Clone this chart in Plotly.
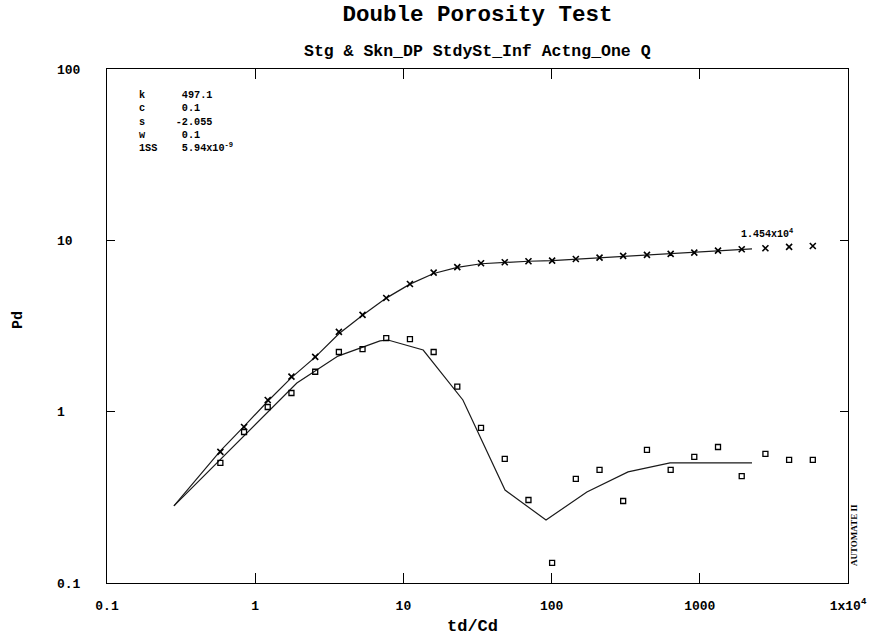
import plotly.graph_objects as go

# Dimensionless time td/Cd shared by both measured series
td = [0.582, 0.841, 1.215, 1.756, 2.54, 3.67, 5.30, 7.66, 11.07, 16.0, 23.1, 33.4,
      48.3, 69.8, 100.8, 145.7, 210.6, 304, 440, 636, 918, 1327, 1918, 2772, 4005, 5788]
# Measured dimensionless pressure
pd_meas = [0.582, 0.814, 1.17, 1.60, 2.09, 2.92, 3.67, 4.61, 5.56, 6.48, 6.97, 7.35,
           7.45, 7.55, 7.61, 7.78, 7.93, 8.11, 8.22, 8.33, 8.48, 8.71, 8.87, 8.99, 9.15, 9.27]
# Measured pressure derivative
deriv_meas = [0.502, 0.761, 1.065, 1.285, 1.71, 2.23, 2.32, 2.69, 2.65, 2.23, 1.40, 0.804,
              0.530, 0.305, 0.131, 0.405, 0.457, 0.301, 0.598, 0.457, 0.544, 0.622, 0.421,
              0.567, 0.523, 0.523]

# Type-curve model (pressure)
td_model = [0.283, 0.582, 0.841, 1.215, 1.756, 2.54, 3.67, 5.30, 7.66, 11.07, 16.0, 23.1,
            33.4, 48.3, 69.8, 100.8, 145.7, 210.6, 304, 440, 636, 918, 1327, 1918, 2250]
pd_model = [0.282, 0.59, 0.82, 1.15, 1.58, 2.08, 2.85, 3.65, 4.6, 5.55, 6.4, 6.95,
            7.3, 7.45, 7.55, 7.62, 7.76, 7.92, 8.1, 8.22, 8.33, 8.48, 8.7, 8.86, 8.92]
# Type-curve model (derivative)
td_dmodel = [0.283, 1.91, 3.62, 6.95, 7.87, 13.6, 25.2, 48.5, 91.7, 173, 328, 630, 2250]
pd_dmodel = [0.282, 1.47, 2.11, 2.59, 2.62, 2.29, 1.17, 0.349, 0.233, 0.340, 0.445, 0.502, 0.502]

# Match parameters
param_names = ["k", "c", "s", "w", "1SS"]
param_values = ["497.1", "0.1", "-2.055", "0.1", "5.94x10<sup>-9</sup>"]

x_tickvals = [0.1, 1, 10, 100, 1000, 10000]
x_ticktext = ["0.1", "1", "10", "100", "1000", "1x10<sup>4</sup>"]
y_tickvals = [0.1, 1, 10, 100]
y_ticktext = ["0.1", "1\u00a0\u00a0", "10\u00a0", "100"]

MONO = "Liberation Mono"
NBSP = "\u00a0"
W, H = 884, 642
L, R, T, B = 107, 36, 69, 59
pw, ph = W - L - R, H - T - B


def px(x):
    return (x - L) / pw


def py(y):
    return (H - B - y) / ph


fig = go.Figure()
fig.add_trace(go.Scatter(x=td_model, y=pd_model, mode="lines",
                         line=dict(color="#1a1a1a", width=1.2), showlegend=False))
fig.add_trace(go.Scatter(x=td_dmodel, y=pd_dmodel, mode="lines",
                         line=dict(color="#1a1a1a", width=1.2), showlegend=False))
fig.add_trace(go.Scatter(x=td, y=pd_meas, mode="markers",
                         marker=dict(symbol="x-thin-open", size=6, color="black",
                                     line=dict(color="black", width=1.6)),
                         showlegend=False))
fig.add_trace(go.Scatter(x=td, y=deriv_meas, mode="markers",
                         marker=dict(symbol="square-open", size=5, color="black",
                                     line=dict(color="black", width=1.3)),
                         showlegend=False))

# Parameter block as one monospaced text: name column, then a sign column for values
rows = []
for n, v in zip(param_names, param_values):
    sign = "" if v.startswith("-") else NBSP
    rows.append(n + NBSP * (6 - len(n)) + sign + v)
param_text = "<br>".join(rows)

annotations = [
    dict(text=param_text, x=px(137), y=py(88), xref="paper", yref="paper",
         xanchor="left", yanchor="top", align="left", showarrow=False,
         font=dict(family=MONO, size=10.2, color="black", weight="bold")),
    dict(text="Stg & Skn_DP StdySt_Inf Actng_One Q", x=0.5, y=py(52), xref="paper",
         yref="paper", xanchor="center", yanchor="middle", showarrow=False,
         font=dict(family=MONO, size=16.5, color="black", weight="bold")),
    dict(text="1.454x10<sup>4</sup>", x=px(767), y=py(234), xref="paper", yref="paper",
         xanchor="center", yanchor="middle", showarrow=False,
         font=dict(family=MONO, size=10, color="black", weight="bold")),
    dict(text="AUTOMATE II", x=px(854), y=py(535), xref="paper", yref="paper",
         xanchor="center", yanchor="middle", textangle=-90, showarrow=False,
         font=dict(family="Liberation Serif", size=9, color="black", weight="bold")),
    dict(text="td/Cd", x=px(472), y=py(626), xref="paper", yref="paper",
         xanchor="center", yanchor="middle", showarrow=False,
         font=dict(family=MONO, size=17, color="black", weight="bold")),
    dict(text="Pd", x=px(18), y=py(320), xref="paper", yref="paper",
         xanchor="center", yanchor="middle", textangle=-90, showarrow=False,
         font=dict(family=MONO, size=15, color="black", weight="bold")),
]

fig.update_layout(
    width=W, height=H,
    margin=dict(l=L, r=R, t=T, b=B),
    paper_bgcolor="white", plot_bgcolor="white",
    title=dict(text="Double Porosity Test", x=0.5, xref="paper", xanchor="center",
               y=1 - 13 / H, yref="container", yanchor="middle",
               font=dict(family=MONO, size=22.5, color="black", weight="bold")),
    annotations=annotations,
    xaxis=dict(type="log", range=[-1, 4], tickvals=x_tickvals, ticktext=x_ticktext,
               ticks="inside", ticklen=10, tickcolor="black", tickwidth=1,
               showline=True, linecolor="black", linewidth=1, mirror="ticks",
               showgrid=False, zeroline=False, ticklabelstandoff=10,
               tickfont=dict(family=MONO, size=13, color="black", weight="bold")),
    yaxis=dict(type="log", range=[-1, 2], tickvals=y_tickvals, ticktext=y_ticktext,
               ticks="inside", ticklen=8, tickcolor="black", tickwidth=1,
               showline=True, linecolor="black", linewidth=1, mirror="ticks",
               showgrid=False, zeroline=False, ticklabelstandoff=23,
               tickfont=dict(family=MONO, size=13, color="black", weight="bold")),
)

fig.write_html("out.html")
